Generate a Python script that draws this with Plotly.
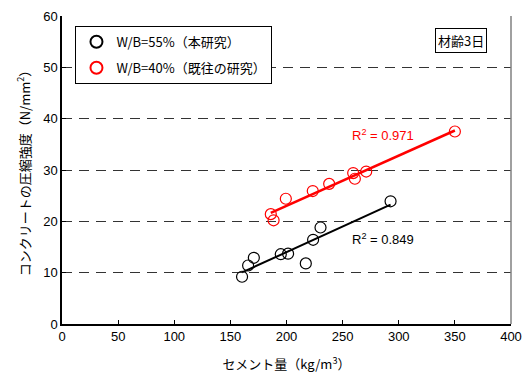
import numpy as np
import plotly.graph_objects as go

# Data (cement content kg/m3, compressive strength N/mm2)
x55 = [160.4, 165.8, 170.9, 194.9, 201.4, 217.2, 223.7, 230.3, 292.7]
y55 = [9.2, 11.4, 12.9, 13.6, 13.7, 11.8, 16.4, 18.8, 23.9]
x40 = [186.0, 188.5, 199.4, 223.4, 238.0, 259.4, 260.9, 271.0, 350.0]
y40 = [21.4, 20.2, 24.4, 25.9, 27.3, 29.4, 28.3, 29.7, 37.5]
name55 = "W/B=55%（本研究）"
name40 = "W/B=40%（既往の研究）"
r2_55 = "R<sup>2</sup> = 0.849"
r2_40 = "R<sup>2</sup> = 0.971"
xticks = [0, 50, 100, 150, 200, 250, 300, 350, 400]
yticks = [0, 10, 20, 30, 40, 50, 60]

NUM = "Liberation Sans, Arial, sans-serif"
JP = "Noto Sans CJK JP, sans-serif"

def fit(xs, ys):
    a, b = np.polyfit(xs, ys, 1)
    xx = np.array([min(xs), max(xs)])
    return xx, a * xx + b

fig = go.Figure()
for xs, ys, col, w in [(x55, y55, "black", 2), (x40, y40, "red", 2.5)]:
    lx, ly = fit(xs, ys)
    fig.add_trace(go.Scatter(x=lx, y=ly, mode="lines", line=dict(color=col, width=w),
                             showlegend=False, hoverinfo="skip"))
fig.add_trace(go.Scatter(x=x55, y=y55, mode="markers", name=name55, legendgroup="a",
                         marker=dict(symbol="circle-open", size=11, color="black", line=dict(width=1.2))))
fig.add_trace(go.Scatter(x=x40, y=y40, mode="markers", name=name40, legendgroup="b",
                         marker=dict(symbol="circle-open", size=11, color="red", line=dict(width=1.2))))

fig.add_annotation(x=257, y=36.8, xref="x", yref="y", text=r2_40, showarrow=False,
                   xanchor="left", yanchor="middle", font=dict(family=NUM, size=13, color="red"))
fig.add_annotation(x=257, y=16.6, xref="x", yref="y", text=r2_55, showarrow=False,
                   xanchor="left", yanchor="middle", font=dict(family=NUM, size=13, color="black"))
fig.add_annotation(x=0.889, y=0.919, xref="paper", yref="paper", text="材齢3日", showarrow=False,
                   xanchor="center", yanchor="middle", bordercolor="black", borderwidth=1,
                   borderpad=2, bgcolor="white", font=dict(family=JP, size=13, color="black"))

# right border
fig.add_shape(type="line", xref="paper", yref="paper", x0=1, x1=1, y0=0, y1=1,
              line=dict(color="#808080", width=1.5))

fig.update_layout(
    width=522, height=376,
    margin=dict(l=62, r=11, t=16, b=52),
    plot_bgcolor="white", paper_bgcolor="white",
    legend=dict(x=0.03, y=0.968, xanchor="left", yanchor="top", bgcolor="white",
                bordercolor="black", borderwidth=1, itemwidth=30,
                font=dict(family=JP, size=13, color="black"), tracegroupgap=6,
                itemsizing="constant"),
    xaxis=dict(range=[0, 400], tickvals=xticks, showgrid=False, zeroline=False, automargin=False,
               showline=True, linecolor="black", linewidth=1.5, ticks="inside", ticklen=4,
               tickcolor="black", tickfont=dict(family=NUM, size=13, color="black"),
               title=dict(text="セメント量（kg/m<sup>3</sup>）", font=dict(family=JP, size=13, color="black"),
                          standoff=17)),
    yaxis=dict(range=[0, 60], tickvals=yticks, showgrid=True, gridcolor="#333333", griddash="10px,7px",
               gridwidth=1, zeroline=False, showline=True, linecolor="black", linewidth=1.5,
               ticks="inside", ticklen=4, tickcolor="black", automargin=False,
               tickfont=dict(family=NUM, size=13, color="black"),
               title=dict(text="コンクリートの圧縮強度（N/mm<sup>2</sup>）",
                          font=dict(family=JP, size=13, color="black"), standoff=10)),
)

fig.write_html("out.html")
